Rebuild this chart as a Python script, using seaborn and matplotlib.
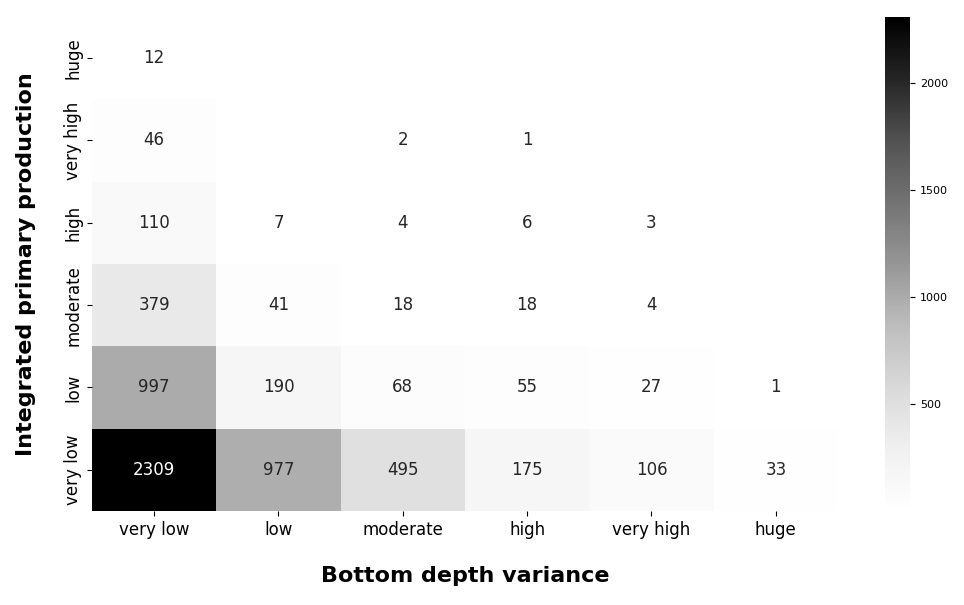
import numpy as np
import pandas as pd
import seaborn as sns
import matplotlib
matplotlib.use("Agg")
import matplotlib.pyplot as plt

# -----------------------------
# Data (counts per class combination)
# -----------------------------
depth_var = ["very low", "low", "moderate", "high", "very high", "huge"]
production = ["huge", "very high", "high", "moderate", "low", "very low"]

nan = np.nan
row_huge = [12, nan, nan, nan, nan, nan]
row_very_high = [46, nan, 2, 1, nan, nan]
row_high = [110, 7, 4, 6, 3, nan]
row_moderate = [379, 41, 18, 18, 4, nan]
row_low = [997, 190, 68, 55, 27, 1]
row_very_low = [2309, 977, 495, 175, 106, 33]

df = pd.DataFrame(
    [row_huge, row_very_high, row_high, row_moderate, row_low, row_very_low],
    index=production,
    columns=depth_var,
)

# -----------------------------
# Heatmap
# -----------------------------
fig = plt.figure(figsize=(9.64, 6.05), dpi=100)
ax = fig.add_axes([0.0954, 0.1554, 0.7739, 0.8165])
cax = fig.add_axes([0.918, 0.1554, 0.026, 0.8165])

sns.heatmap(
    df,
    ax=ax,
    cbar_ax=cax,
    cmap="Greys",
    annot=True,
    fmt=".0f",
    annot_kws={"fontsize": 12},
)

ax.set_xlabel("Bottom depth variance", fontsize=16, fontweight="bold", labelpad=20)
ax.set_ylabel("Integrated primary production", fontsize=16, fontweight="bold", labelpad=20)
ax.tick_params(axis="both", labelsize=12)
plt.setp(ax.get_yticklabels(), rotation=90, va="center")
cax.tick_params(labelsize=8)

plt.savefig("out.png", dpi=100)
plt.close()
